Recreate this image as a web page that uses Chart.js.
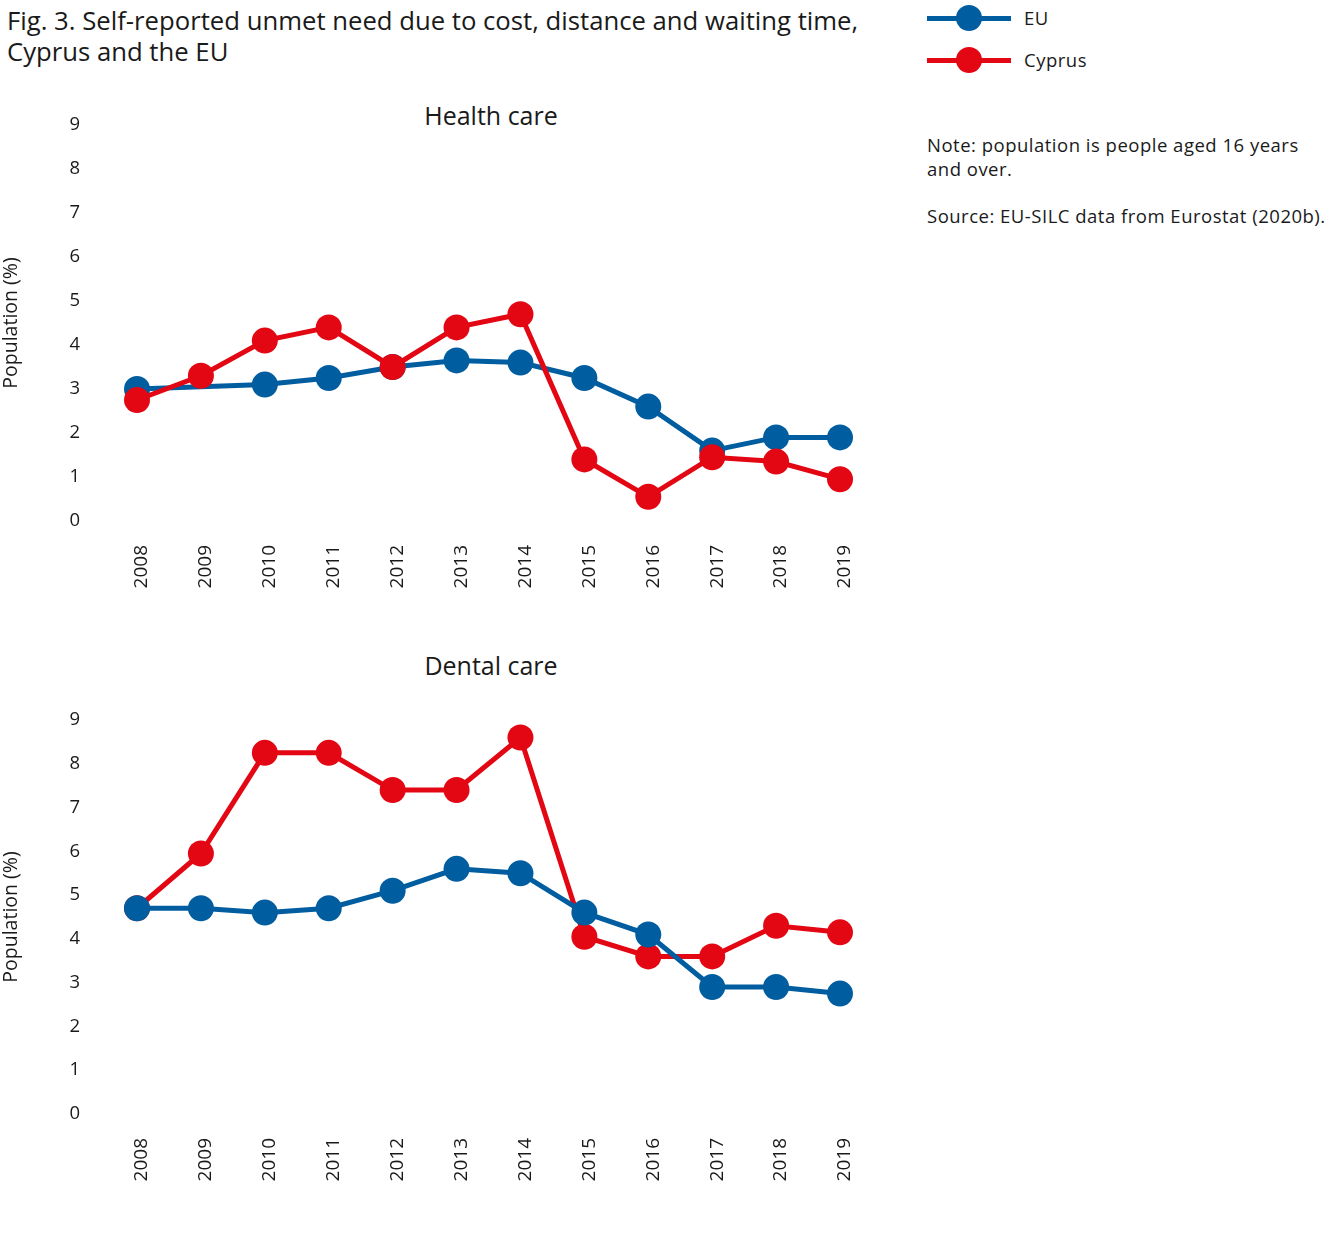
<!DOCTYPE html>
<html>
<head>
<meta charset="utf-8">
<script src="https://cdn.jsdelivr.net/npm/chart.js@4.4.0/dist/chart.umd.min.js"></script>
<style>
  body { margin: 0; background: #fff; font-family: "Open Sans", "Noto Sans", sans-serif; color: #1a1a1a; }
  #page { position: relative; width: 1344px; height: 1241px; overflow: hidden; }
  .title { position: absolute; left: 7px; top: 5px; font-size: 25.7px; line-height: 31px; }
  .sub { position: absolute; width: 300px; text-align: center; font-size: 25px; }
  .box { position: absolute; left: 0; width: 880px; }
  .legend { position: absolute; left: 927px; font-size: 18.5px; letter-spacing: 0.5px; }
  .legend .item { position: relative; height: 26px; }
  .legend .ln { position: absolute; left: 0; top: 11px; width: 84px; height: 5px; }
  .legend .dot { position: absolute; left: 29px; top: 0; width: 26px; height: 26px; border-radius: 50%; }
  .legend .lbl { position: absolute; left: 97px; top: 0; line-height: 26px; }
  .note { position: absolute; left: 927px; top: 133px; font-size: 18.5px; line-height: 24px; letter-spacing: 0.5px; }
</style>
</head>
<body>
<div id="page">
  <div class="title">Fig. 3. Self-reported unmet need due to cost, distance and waiting time,<br>Cyprus and the EU</div>

  <div class="legend" style="top:5px">
    <div class="item"><span class="ln" style="background:#005da0"></span><span class="dot" style="background:#005da0"></span><span class="lbl">EU</span></div>
  </div>
  <div class="legend" style="top:47px">
    <div class="item"><span class="ln" style="background:#e30613"></span><span class="dot" style="background:#e30613"></span><span class="lbl">Cyprus</span></div>
  </div>

  <div class="note">Note: population is people aged 16 years<br>and over.<br><div style="height:23px"></div>Source: EU-SILC data from Eurostat (2020b).</div>

  <div class="sub" style="left:341px; top:98px">Health care</div>
  <div class="box" style="top:105px; height:496px"><canvas id="healthChart"></canvas></div>

  <div class="sub" style="left:341px; top:648px">Dental care</div>
  <div class="box" style="top:700px; height:494px"><canvas id="dentalChart"></canvas></div>
</div>

<script>
// Data
const years = ['2008', '2009', '2010', '2011', '2012', '2013', '2014', '2015', '2016', '2017', '2018', '2019'];
const healthEU = [3.0, null, 3.1, 3.25, 3.5, 3.65, 3.6, 3.25, 2.6, 1.6, 1.9, 1.9];
const healthCyprus = [2.75, 3.3, 4.1, 4.4, 3.5, 4.4, 4.7, 1.4, 0.55, 1.45, 1.35, 0.95];
const dentalEU = [4.7, 4.7, 4.6, 4.7, 5.1, 5.6, 5.5, 4.6, 4.1, 2.9, 2.9, 2.75];
const dentalCyprus = [4.7, 5.95, 8.25, 8.25, 7.4, 7.4, 8.6, 4.05, 3.6, 3.6, 4.3, 4.15];
const yMin = 0;
const yMax = 9;

const blue = '#005da0';
const red = '#e30613';
const fontFamily = '"Open Sans", "Noto Sans", sans-serif';

function lineDataset(label, data, color, order) {
  return {
    label: label,
    data: data,
    borderColor: color,
    backgroundColor: color,
    borderWidth: 5,
    pointRadius: 13,
    pointHoverRadius: 13,
    pointBorderWidth: 0,
    pointBackgroundColor: color,
    tension: 0,
    spanGaps: true,
    clip: false,
    order: order
  };
}

function makeChart(canvasId, euData, cyData, euOnTop) {
  const ctx = document.getElementById(canvasId).getContext('2d');
  return new Chart(ctx, {
    type: 'line',
    data: {
      labels: years,
      datasets: [
        lineDataset('EU', euData, blue, euOnTop ? 0 : 1),
        lineDataset('Cyprus', cyData, red, euOnTop ? 1 : 0)
      ]
    },
    options: {
      responsive: true,
      maintainAspectRatio: false,
      animation: false,
      events: [],
      layout: { padding: { top: 20, right: 40, left: 0, bottom: 0 } },
      plugins: {
        legend: { display: false },
        tooltip: { enabled: false }
      },
      scales: {
        x: {
          offset: false,
          grid: { display: false, drawTicks: false },
          border: { display: false },
          ticks: {
            color: '#1a1a1a',
            font: { family: fontFamily, size: 19 },
            minRotation: 90,
            maxRotation: 90,
            padding: 24,
            labelOffset: 5,
            autoSkip: false
          },
          afterFit: function(scale) {
            scale.height = 80;
            scale.paddingLeft = 0;
            scale.paddingRight = 0;
          }
        },
        y: {
          min: yMin,
          max: yMax,
          grid: { display: false, drawTicks: false },
          border: { display: false },
          ticks: {
            stepSize: 1,
            color: '#1a1a1a',
            font: { family: fontFamily, size: 18.5 },
            padding: 57
          },
          title: {
            display: true,
            text: 'Population (%)',
            color: '#1a1a1a',
            font: { family: fontFamily, size: 19.5 },
            padding: { top: 0, bottom: 0 }
          },
          afterFit: function(scale) {
            // tick padding would otherwise push the plot area down
            scale.width = 137;
            scale.paddingTop = 10;
            scale.paddingBottom = 10;
          }
        }
      }
    }
  });
}

makeChart('healthChart', healthEU, healthCyprus, false);
makeChart('dentalChart', dentalEU, dentalCyprus, true);
</script>
</body>
</html>
